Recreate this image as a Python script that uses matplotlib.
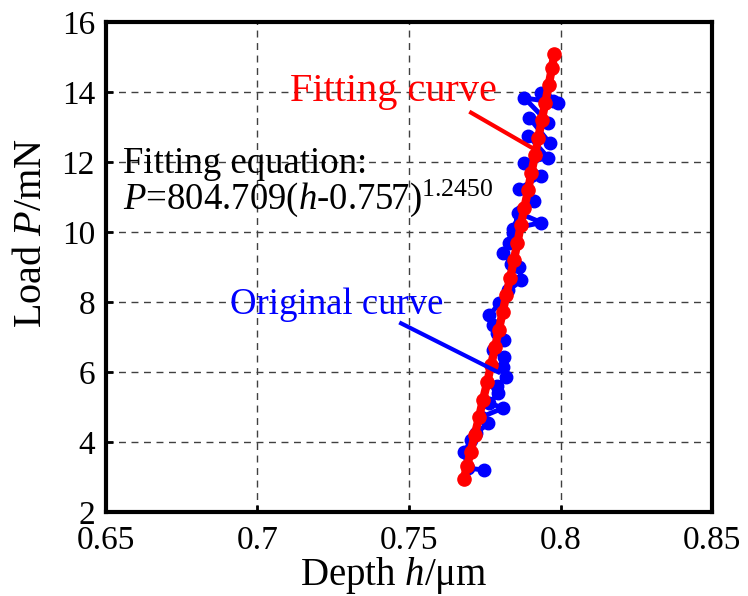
import matplotlib
matplotlib.use("Agg")
import matplotlib.pyplot as plt

plt.rcParams['font.family'] = ['Liberation Serif', 'DejaVu Serif']
plt.rcParams['mathtext.fontset'] = 'custom'
plt.rcParams['mathtext.rm'] = 'Liberation Serif'
plt.rcParams['mathtext.it'] = 'Liberation Serif:italic'

# Original (measured) curve
orig_h = [0.7748, 0.7695, 0.7682, 0.7705, 0.7722, 0.7762, 0.7738, 0.7811, 0.7765,
          0.7795, 0.7790, 0.7821, 0.7811, 0.7815, 0.7778, 0.7815, 0.7790, 0.7778,
          0.7765, 0.7798, 0.7828, 0.7871, 0.7864, 0.7838, 0.7811, 0.7830, 0.7844,
          0.7861, 0.7937, 0.7844, 0.7870, 0.7914, 0.7864, 0.7937, 0.7881, 0.7960,
          0.7894, 0.7964, 0.7897, 0.7960, 0.7881, 0.7993, 0.7937, 0.7950, 0.7975]
orig_P = [3.20, 3.25, 3.71, 4.05, 4.25, 4.54, 4.71, 4.97, 5.11,
          5.39, 5.60, 5.85, 6.13, 6.42, 6.62, 6.90, 7.10, 7.33,
          7.62, 7.96, 8.33, 8.62, 9.01, 9.10, 9.41, 9.70, 9.96,
          10.55, 10.27, 10.10, 10.60, 10.90, 11.24, 11.61, 11.98, 12.12,
          12.75, 12.55, 13.26, 13.12, 13.83, 13.69, 13.98, 13.85, 13.75]

# Fitting curve points
fit_h = [0.7681, 0.7691, 0.7703, 0.7717, 0.7731, 0.7744, 0.7758, 0.7771, 0.7784,
         0.7796, 0.7809, 0.7821, 0.7834, 0.7846, 0.7858, 0.7869, 0.7881, 0.7893,
         0.7904, 0.7916, 0.7927, 0.7938, 0.7950, 0.7961, 0.7972, 0.7980]
fit_P = [2.95, 3.3, 3.7, 4.2, 4.7, 5.2, 5.7, 6.2, 6.7,
         7.2, 7.7, 8.2, 8.7, 9.2, 9.7, 10.2, 10.7, 11.2,
         11.7, 12.2, 12.7, 13.2, 13.7, 14.2, 14.7, 15.1]

xticks = [0.65, 0.7, 0.75, 0.8, 0.85]
xticklabels = ['0.65', '0.7', '0.75', '0.8', '0.85']
yticks = [2, 4, 6, 8, 10, 12, 14, 16]

fig = plt.figure(figsize=(7.48, 5.96), dpi=100)
ax = fig.add_axes([0.1417, 0.141, 0.8102, 0.822])

ax.plot(orig_h, orig_P, '-o', color='#0000ff', lw=3.5, ms=9, zorder=3)
ax.plot(fit_h, fit_P, '-o', color='#ff0000', lw=6, ms=9.5, zorder=4)

ax.set_xlim(0.65, 0.85)
ax.set_ylim(2, 16)
ax.set_xticks(xticks)
ax.set_xticklabels(xticklabels)
ax.set_yticks(yticks)
ax.tick_params(direction='in', length=5, width=2, labelsize=24)
ax.tick_params(axis='x', pad=10)
ax.tick_params(axis='y', pad=8)
for s in ax.spines.values():
    s.set_linewidth(3)

ax.grid(True, color='0.25', linestyle=(0, (5, 4)), linewidth=1.0, zorder=1)
ax.set_axisbelow(True)

ax.set_xlabel(r'Depth $h$/μm', fontsize=28)
ax.set_ylabel(r'Load $P$/mN', fontsize=29)
ax.xaxis.set_label_coords(0.475, -0.088)
ax.yaxis.set_label_coords(-0.092, 0.569)

ax.text(0.7447, 13.75, 'Fitting curve', color='#ff0000', fontsize=29,
        ha='center', va='baseline', zorder=5)
ax.plot([0.7705, 0.7911], [13.41, 12.38], color='#ff0000', lw=3, zorder=5)

ax.text(0.7262, 7.67, 'Original curve', color='#0000ff', fontsize=26.5,
        ha='center', va='baseline', zorder=5)
ax.plot([0.7474, 0.7795], [7.39, 5.99], color='#0000ff', lw=3, zorder=5)

ax.text(0.6556, 11.69, 'Fitting equation:', color='black', fontsize=26.5,
        ha='left', va='baseline', zorder=5)
ax.text(0.6556, 10.66, r'$P$=804.709($h$-0.757)$^{1.2450}$', color='black',
        fontsize=26.5, ha='left', va='baseline', zorder=5)

fig.savefig('out.png', dpi=100)
